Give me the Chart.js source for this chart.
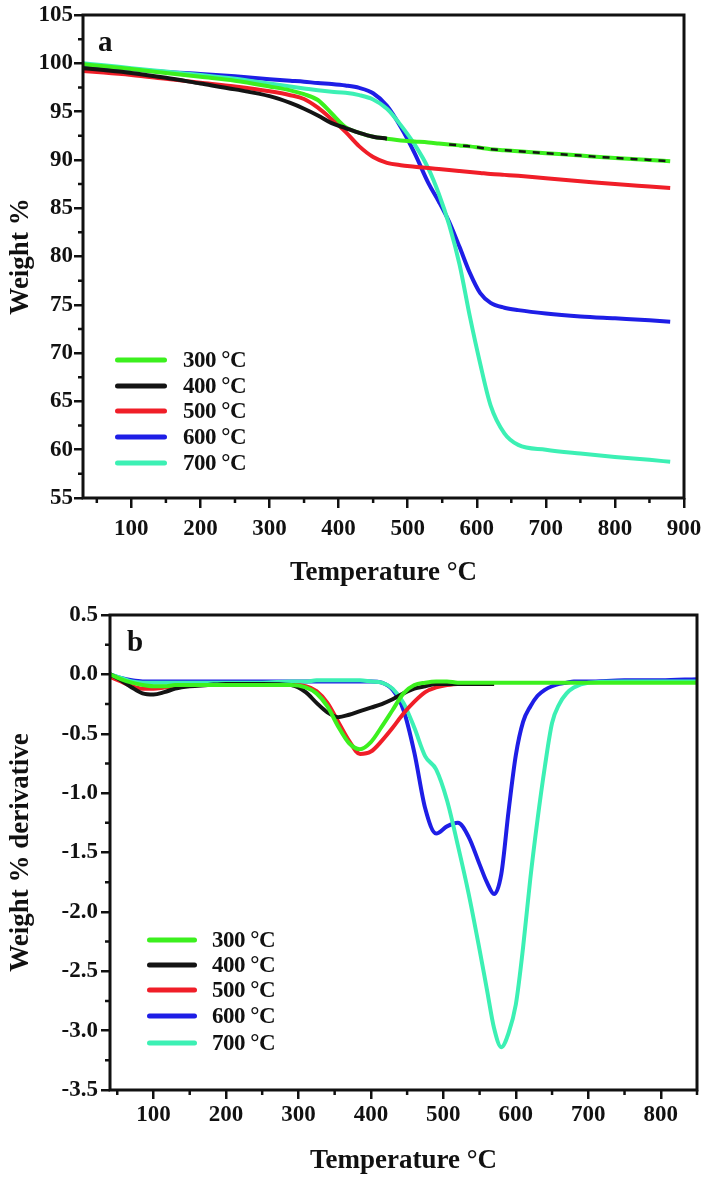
<!DOCTYPE html>
<html><head><meta charset="utf-8">
<script src="https://cdn.jsdelivr.net/npm/chart.js@4.4.1/dist/chart.umd.min.js"></script>
<style>
html,body{margin:0;padding:0;background:#fff;}
body{width:709px;height:1184px;position:relative;overflow:hidden;font-family:"Liberation Serif","Times New Roman",serif;}
canvas{position:absolute;left:0;}
#ca{top:0;}
#cb{top:593px;}
.lgt{position:absolute;font-weight:bold;font-size:23px;color:#111;line-height:24px;white-space:nowrap;transform:translateY(-50%);letter-spacing:-0.5px;}
.lgl{position:absolute;height:5px;border-radius:3px;transform:translateY(-50%);}
.pl{position:absolute;font-weight:bold;font-size:29px;color:#111;line-height:30px;}
</style>
</head><body>
<canvas id="ca" width="709" height="593"></canvas>
<canvas id="cb" width="709" height="591"></canvas>
<div class="pl" style="left:98px;top:26px;">a</div>
<div class="pl" style="left:127px;top:626px;">b</div>
<div id="legends"></div>
<script>
// ---------- data ----------
const seriesLabels = ['300 °C','400 °C','500 °C','600 °C','700 °C'];
const seriesColors = ['#3cf01e','#141414','#f01e28','#1e1ee6','#3cf0b4'];

// Panel a: TGA weight %
const tempA = [30,60,100,150,200,250,300,330,350,370,390,410,430,450,470,490,510,530,545,560,575,590,605,620,640,660,700,750,800,850,880];
const wt300 = [99.9,99.7,99.4,99.0,98.6,98.2,97.6,97.2,96.8,96.2,94.8,93.4,92.8,92.4,92.2,92.0,91.9,91.8,91.7,91.6,91.5,91.4,91.25,91.1,91.0,90.9,90.7,90.45,90.2,90.0,89.85];
const wt400 = [99.5,99.3,99.0,98.5,97.9,97.3,96.6,95.9,95.3,94.6,93.8,93.3,92.8,92.4,92.2,92.0,91.9,91.8,91.7,91.6,91.5,91.4,91.25,91.1,91.0,90.9,90.7,90.45,90.2,90.0,89.85];
const wt500 = [99.2,99.05,98.8,98.4,98.0,97.6,97.1,96.7,96.3,95.4,94.2,92.9,91.4,90.3,89.7,89.45,89.3,89.15,89.05,88.95,88.85,88.75,88.65,88.55,88.45,88.35,88.1,87.8,87.5,87.25,87.1];
const wt600 = [99.7,99.6,99.4,99.1,98.9,98.65,98.35,98.2,98.1,97.95,97.85,97.7,97.45,96.9,95.6,93.4,90.7,87.6,85.7,83.6,81.0,78.3,76.2,75.2,74.7,74.45,74.1,73.8,73.6,73.4,73.25];
const wt700 = [100.0,99.8,99.5,99.15,98.8,98.4,97.9,97.6,97.4,97.2,97.05,96.95,96.7,96.25,95.3,93.6,91.6,89.1,86.5,83.3,79.2,73.8,68.9,64.6,61.7,60.5,60.0,59.6,59.25,58.95,58.75];

// Panel b: derivative weight %
const tempB = [40,55,70,85,100,115,130,150,175,200,250,290,310,325,340,355,370,385,400,415,430,445,460,475,490,505,520,535,550,560,570,580,590,600,610,620,630,640,650,660,670,680,700,750,800,850];
const d300 = [0.0,-0.04,-0.07,-0.09,-0.10,-0.10,-0.09,-0.09,-0.09,-0.09,-0.09,-0.09,-0.11,-0.16,-0.27,-0.44,-0.58,-0.63,-0.57,-0.44,-0.30,-0.16,-0.09,-0.07,-0.06,-0.06,-0.07,-0.07,-0.07,-0.07,-0.07,-0.07,-0.07,-0.07,-0.07,-0.07,-0.07,-0.07,-0.07,-0.07,-0.07,-0.07,-0.07,-0.07,-0.07,-0.07];
const d400 = [0.0,-0.05,-0.11,-0.16,-0.17,-0.15,-0.12,-0.10,-0.09,-0.08,-0.08,-0.09,-0.15,-0.24,-0.32,-0.36,-0.34,-0.31,-0.28,-0.25,-0.21,-0.16,-0.12,-0.10,-0.08,-0.08,-0.08,-0.08,-0.08,-0.08,-0.08,null,null,null,null,null,null,null,null,null,null,null,null,null,null,null];
const d500 = [-0.02,-0.06,-0.10,-0.12,-0.12,-0.11,-0.10,-0.09,-0.09,-0.09,-0.09,-0.09,-0.10,-0.14,-0.24,-0.40,-0.56,-0.67,-0.65,-0.56,-0.45,-0.33,-0.23,-0.15,-0.11,-0.09,-0.08,-0.08,-0.08,-0.08,-0.08,null,null,null,null,null,null,null,null,null,null,null,null,null,null,null];
const d600 = [0.0,-0.03,-0.05,-0.06,-0.06,-0.06,-0.06,-0.06,-0.06,-0.06,-0.06,-0.06,-0.06,-0.06,-0.06,-0.06,-0.06,-0.06,-0.06,-0.07,-0.13,-0.30,-0.66,-1.13,-1.34,-1.28,-1.25,-1.37,-1.60,-1.75,-1.85,-1.68,-1.15,-0.68,-0.40,-0.27,-0.18,-0.13,-0.10,-0.08,-0.07,-0.06,-0.06,-0.05,-0.05,-0.04];
const d700 = [0.0,-0.03,-0.06,-0.07,-0.07,-0.07,-0.07,-0.07,-0.07,-0.07,-0.07,-0.06,-0.06,-0.05,-0.05,-0.05,-0.05,-0.05,-0.06,-0.07,-0.12,-0.24,-0.45,-0.69,-0.80,-1.06,-1.44,-1.85,-2.32,-2.65,-2.98,-3.14,-3.02,-2.78,-2.30,-1.72,-1.22,-0.78,-0.41,-0.25,-0.16,-0.11,-0.07,-0.06,-0.06,-0.06];

// ticks
const xTicksA = [100,200,300,400,500,600,700,800,900];
const xMinorA = [50,150,250,350,450,550,650,750,850];
const yTicksA = [55,60,65,70,75,80,85,90,95,100,105];
const yMinorA = [57.5,62.5,67.5,72.5,77.5,82.5,87.5,92.5,97.5,102.5];
const xTicksB = [100,200,300,400,500,600,700,800];
const xMinorB = [50,150,250,350,450,550,650,750,850];
const yTicksB = [-3.5,-3.0,-2.5,-2.0,-1.5,-1.0,-0.5,0.0,0.5];
const yMinorB = [-3.25,-2.75,-2.25,-1.75,-1.25,-0.75,-0.25,0.25];

// ---------- helpers ----------
const FONT = '"Liberation Serif", "Times New Roman", serif';
const INK = '#111';

const frameTicks = {
  id: 'frameTicks',
  afterDraw(chart, args, opts) {
    const {ctx, chartArea: a, scales: {x, y}} = chart;
    ctx.save();
    ctx.strokeStyle = INK;
    ctx.lineWidth = 2.5;
    ctx.beginPath();
    opts.x.forEach(v => { const p = x.getPixelForValue(v); ctx.moveTo(p, a.bottom); ctx.lineTo(p, a.bottom + opts.len); });
    opts.y.forEach(v => { const p = y.getPixelForValue(v); ctx.moveTo(a.left, p); ctx.lineTo(a.left - opts.len, p); });
    ctx.stroke();
    ctx.lineWidth = 3;
    ctx.strokeRect(a.left, a.top, a.right - a.left, a.bottom - a.top);
    ctx.restore();
  }
};

function pts(xs, ys) { return xs.map((t, i) => ({x: t, y: ys[i]})); }

function makeDatasets(xs, arrs, orders, extra) {
  return arrs.map((arr, i) => Object.assign({
    label: seriesLabels[i],
    data: pts(xs, arr),
    borderColor: seriesColors[i],
    backgroundColor: seriesColors[i],
    borderWidth: 4,
    pointRadius: 0,
    fill: false,
    cubicInterpolationMode: 'monotone',
    spanGaps: false,
    order: orders[i]
  }, extra[i] || {}));
}

function axisCommon(min, max, ticks, tickFmt, tl, pad, fit, fitKey, title, titlePad) {
  return {
    type: 'linear', min, max,
    afterBuildTicks: s => { s.ticks = ticks.map(v => ({value: v})); },
    afterFit: s => { s[fitKey] = fit; },
    ticks: {
      autoSkip: false, maxRotation: 0, minRotation: 0, padding: pad,
      color: INK, font: {family: FONT, size: 23, weight: 'bold'},
      callback: tickFmt
    },
    grid: {drawOnChartArea: false, drawTicks: true, tickLength: tl, color: INK, lineWidth: 2.5},
    border: {display: false},
    title: {display: true, text: title, color: INK, font: {family: FONT, size: 27, weight: 'bold'}, padding: titlePad}
  };
}

Chart.defaults.animation = false;

// ---------- chart a ----------
new Chart(document.getElementById('ca'), {
  type: 'line',
  data: {
    datasets: makeDatasets(tempA, [wt300, wt400, wt500, wt600, wt700], [1, 0, 2, 4, 3], [
      null,
      {segment: {
        borderDash: c => c.p0.parsed.x >= 560 ? [7, 7] : undefined,
        borderWidth: c => c.p0.parsed.x >= 560 ? 2.5 : undefined,
        borderColor: c => (c.p0.parsed.x >= 470 && c.p0.parsed.x < 560) ? 'rgba(0,0,0,0)' : undefined
      }},
      null, null, null
    ])
  },
  options: {
    responsive: false, devicePixelRatio: 1,
    layout: {padding: {left: 0, right: 25, top: 15, bottom: 0}},
    plugins: {legend: {display: false}, tooltip: {enabled: false},
      frameTicks: {x: xMinorA, y: yMinorA, len: 5}},
    scales: {
      x: axisCommon(30, 900, xTicksA, v => String(v), 10, 7, 95, 'height', 'Temperature °C', {top: 4, bottom: 4}),
      y: axisCommon(55, 105, yTicksA, v => String(v), 9, 1, 83, 'width', 'Weight %', {top: 5, bottom: 4})
    }
  },
  plugins: [frameTicks]
});

// ---------- chart b ----------
new Chart(document.getElementById('cb'), {
  type: 'line',
  data: {datasets: makeDatasets(tempB, [d300, d400, d500, d600, d700], [0, 1, 2, 4, 3], [])},
  options: {
    responsive: false, devicePixelRatio: 1,
    layout: {padding: {left: 0, right: 12, top: 22, bottom: 3}},
    plugins: {legend: {display: false}, tooltip: {enabled: false},
      frameTicks: {x: xMinorB, y: yMinorB, len: 5}},
    scales: {
      x: axisCommon(40, 850, xTicksB, v => String(v), 9, 2, 91, 'height', 'Temperature °C', {top: 4, bottom: 4}),
      y: axisCommon(-3.5, 0.5, yTicksB, v => Number(v).toFixed(1), 9, 3, 110, 'width', 'Weight % derivative', {top: 5, bottom: 4})
    }
  },
  plugins: [frameTicks]
});

// ---------- legends (inside plot areas) ----------
function legend(rows, lx0, lx1, tx) {
  const host = document.getElementById('legends');
  seriesLabels.forEach((lab, i) => {
    const l = document.createElement('div');
    l.className = 'lgl';
    l.style.left = lx0 + 'px'; l.style.width = (lx1 - lx0) + 'px'; l.style.top = rows[i] + 'px';
    l.style.background = seriesColors[i];
    host.appendChild(l);
    const t = document.createElement('div');
    t.className = 'lgt';
    t.style.left = tx + 'px'; t.style.top = rows[i] + 'px';
    t.textContent = lab;
    host.appendChild(t);
  });
}
legend([360, 386, 411, 437, 463], 115, 167, 183);
legend([940, 965, 990, 1016, 1043], 147, 197, 212);
</script>
</body></html>
